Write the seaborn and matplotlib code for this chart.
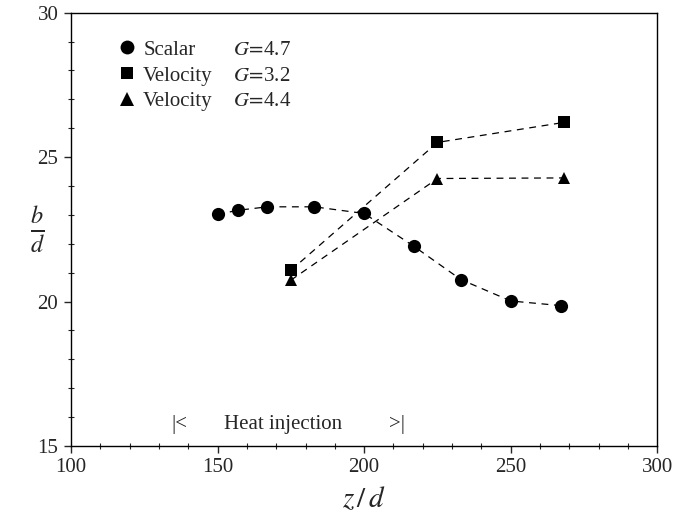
import matplotlib
matplotlib.use("Agg")
import matplotlib.pyplot as plt
from matplotlib.lines import Line2D
from matplotlib.ticker import MultipleLocator
import seaborn as sns
import pandas as pd

# ---- data ----
scalar_z = [150, 157, 167, 183, 200, 217, 233, 250, 267]
scalar_b = [23.02, 23.16, 23.28, 23.28, 23.05, 21.91, 20.76, 20.02, 19.86]

vel32_z = [175, 225, 268]
vel32_b = [21.08, 25.51, 26.2]

vel44_z = [175, 225, 268]
vel44_b = [20.74, 24.26, 24.28]

series_names = ["Scalar", "Velocity", "Velocity"]
series_G = ["4.7", "3.2", "4.4"]
series_keys = ["s", "v32", "v44"]
heat_start, heat_mid, heat_end, heat_level = 134.4, 172.3, 213.9, 15.75

# ---- build long table ----
rows = []
for k, zs, bs in zip(series_keys, [scalar_z, vel32_z, vel44_z], [scalar_b, vel32_b, vel44_b]):
    for z, b in zip(zs, bs):
        rows.append({"z": z, "b": b, "series": k})
df = pd.DataFrame(rows)

sns.set_style("ticks")
plt.rcParams["font.family"] = ["Liberation Serif", "DejaVu Serif"]
plt.rcParams["mathtext.fontset"] = "stix"

fig = plt.figure(figsize=(6.75, 5.21), dpi=100)
ax = fig.add_axes([0.105, 0.144, 0.869, 0.8316])

markers = {"s": "o", "v32": "s", "v44": "^"}
msizes = {"s": 9.5, "v32": 8.2, "v44": 9.0}
for k in series_keys:
    sub = df[df.series == k]
    sns.lineplot(data=sub, x="z", y="b", ax=ax, color="black", linewidth=0.9,
                 marker=markers[k], markersize=msizes[k], markeredgewidth=0,
                 sort=False, estimator=None, legend=False)
for line in ax.lines:
    line.set_linestyle((0, (5.5, 4.5)))

ax.set_xlim(100, 300)
ax.set_ylim(15, 30)
ax.xaxis.set_major_locator(MultipleLocator(50))
ax.xaxis.set_minor_locator(MultipleLocator(10))
ax.yaxis.set_major_locator(MultipleLocator(5))
ax.yaxis.set_minor_locator(MultipleLocator(1))
ax.tick_params(which="major", direction="out", length=5, width=1, labelsize=15, pad=4)
ax.tick_params(which="minor", direction="inout", length=5, width=0.8)
for sp in ax.spines.values():
    sp.set_visible(True)
    sp.set_linewidth(1.0)
    sp.set_color("black")

ax.set_xlabel(r"$z\,/\,d$", fontsize=21, labelpad=6)
ax.set_ylabel(r"$\frac{b}{d}$", fontsize=25, rotation=0, labelpad=0, va="center")

# legend (markers only)
handles = [Line2D([], [], color="black", marker=markers[k], markersize=msizes[k] * 1.05,
                  linestyle="none", markeredgewidth=0) for k in series_keys]
leg = ax.legend(handles, series_names, loc="upper left", bbox_to_anchor=(0.063, 0.956),
                frameon=False, fontsize=15, handlelength=1.0, handletextpad=0.3,
                labelspacing=0.3, borderaxespad=0.0)

fig.canvas.draw()
inv = ax.transAxes.inverted()
for txt, g in zip(leg.get_texts(), series_G):
    bb = txt.get_window_extent()
    yc = inv.transform(((bb.x0 + bb.x1) / 2, (bb.y0 + bb.y1) / 2))[1]
    ax.text(0.276, yc, r"$G\!=\!$" + g, transform=ax.transAxes, fontsize=15,
            va="center", ha="left")

# heat injection annotation
ax.text(heat_start, heat_level, "|<", fontsize=15, ha="left", va="center")
ax.text(heat_mid, heat_level, "Heat injection", fontsize=15, ha="center", va="center")
ax.text(heat_end, heat_level, ">|", fontsize=15, ha="right", va="center")

fig.savefig("out.png", dpi=100)
